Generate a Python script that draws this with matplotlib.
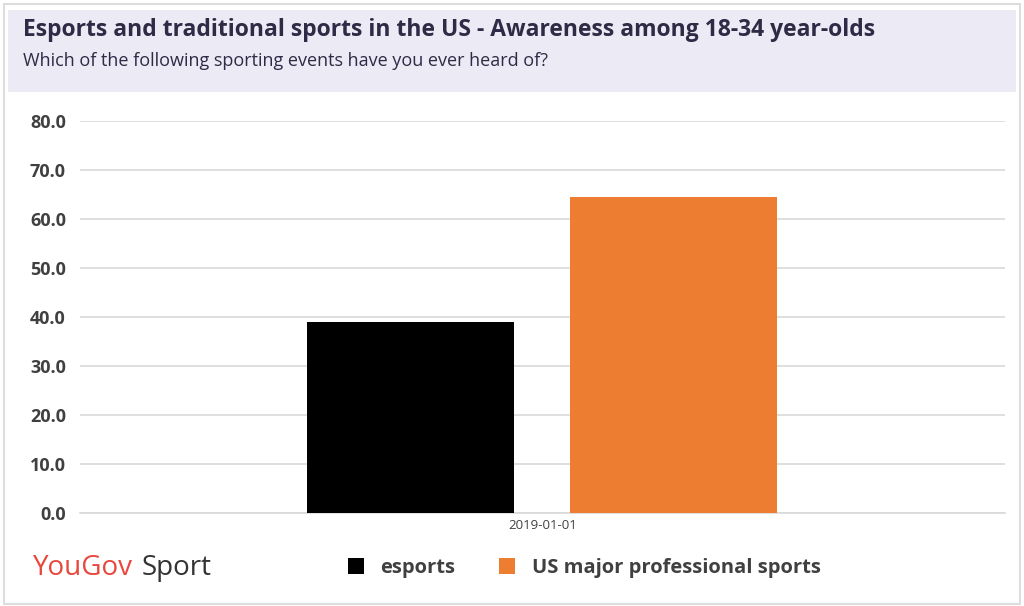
import matplotlib.pyplot as plt
from matplotlib.patches import Rectangle

series = ["esports", "US major professional sports"]
values = [39.0, 64.5]
colors = ["#000000", "#ED7D31"]
period = "2019-01-01"
yticks = [0, 10, 20, 30, 40, 50, 60, 70, 80]

fig = plt.figure(figsize=(10.24, 6.06), dpi=100)
plt.rcParams["font.family"] = ["Open Sans", "DejaVu Sans"]

# outer frame and header box
fig.patches.append(Rectangle((0.004, 0.004), 0.992, 0.99, transform=fig.transFigure,
                             fill=False, edgecolor="#dddddd", linewidth=1.5))
fig.patches.append(Rectangle((0.008, 0.848), 0.984, 0.135, transform=fig.transFigure,
                             facecolor="#ECEAF4", edgecolor="none"))
fig.text(0.022, 0.951, "Esports and traditional sports in the US - Awareness among 18-34 year-olds",
         fontsize=16.5, fontweight="bold", color="#2F2A45", va="center")
fig.text(0.022, 0.899, "Which of the following sporting events have you ever heard of?",
         fontsize=13, color="#2F2A45", va="center")

ax = fig.add_axes([0.078, 0.1535, 0.903, 0.6465])
offsets = [-0.284, 0.284]
for off, v, c, name in zip(offsets, values, colors, series):
    ax.bar(off, v, width=0.448, color=c, label=name, zorder=3)
ax.set_xlim(-1, 1)
ax.set_ylim(0, 80)
ax.set_yticks(yticks)
ax.set_yticklabels([f"{t:.1f}" for t in yticks], fontsize=13, fontweight="bold", color="#404040")
ax.set_xticks([0])
ax.set_xticklabels([period], fontsize=9.5, color="#404040")
ax.tick_params(length=0, pad=10)
ax.tick_params(axis="x", pad=4)
ax.yaxis.grid(True, color="#d9d9d9", linewidth=1.2, zorder=0)
for s in ["top", "right", "left"]:
    ax.spines[s].set_visible(False)
ax.spines["bottom"].set_color("#d9d9d9")
ax.spines["bottom"].set_linewidth(1.2)

fig.legend(loc="center left", bbox_to_anchor=(0.322, 0.063), ncol=2, frameon=False,
           prop={"size": 14.5, "weight": "bold"}, labelcolor="#404040",
           handlelength=0.8, handleheight=0.8, columnspacing=2.2, handletextpad=0.8)

fig.text(0.032, 0.063, "YouGov", fontsize=20, color="#E8473E", va="center")
fig.text(0.138, 0.063, "Sport", fontsize=20, color="#333333", va="center")

fig.savefig("out.png", dpi=100)
